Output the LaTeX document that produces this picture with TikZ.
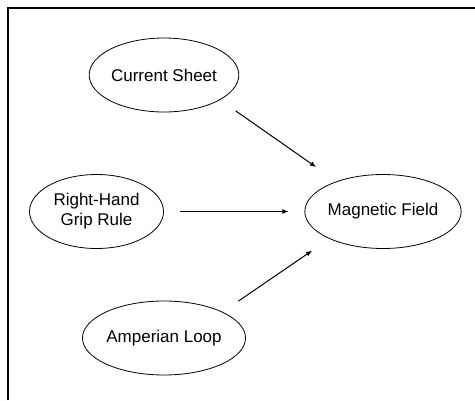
\documentclass[tikz,border=0pt]{standalone}
\usepackage{fontspec}
\setmainfont{Liberation Sans}
\usetikzlibrary{arrows.meta, shapes.geometric}

\begin{document}
\begin{tikzpicture}[x=1pt, y=1pt,
      every node/.append style={font=\fontsize{17}{20}\selectfont},
      concept/.style={ellipse, draw, line width=0.8pt, minimum width=134pt, minimum height=74pt,
        inner sep=0pt, align=center},
      link/.style={line width=1pt, -{Latex[length=6pt, width=5pt]}}]
    \useasboundingbox (0,0) rectangle (475,400);
    \draw[line width=2pt] (8,0) -- (8,392) -- (475,392);
    \node (sheet) [concept] at (164,325) {Current Sheet};
    \node (grip) [concept] at (96.5,188.5) {Right-Hand\\Grip Rule};
    \node (loop) [concept] at (164,62) {Amperian Loop};
    \node (field) [concept] at (383,188.5) {Magnetic Field};
    \draw[link, shorten <=19pt, shorten >=25pt] (sheet.-24) -- (field.147);
    \draw[link, shorten <=16pt, shorten >=16pt] (grip) -- (field);
    \draw[link, shorten <=19pt, shorten >=21pt] (loop.24) -- (field.-153);
  \end{tikzpicture}
\end{document}
